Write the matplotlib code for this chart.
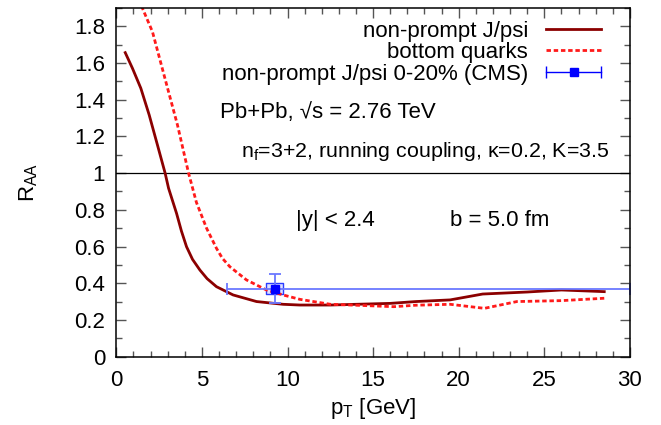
import matplotlib
matplotlib.use("Agg")
import matplotlib.pyplot as plt
from matplotlib.ticker import MultipleLocator
from matplotlib.lines import Line2D
from matplotlib.legend_handler import HandlerLine2D

plt.rcParams["font.family"] = ["Liberation Sans", "DejaVu Sans"]
plt.rcParams["mathtext.default"] = "regular"

# non-prompt J/psi (solid)
pt_jpsi = [0.52, 0.94, 1.43, 1.92, 2.4, 2.85, 3.05, 3.52, 3.8, 4.1, 4.45, 4.88, 5.3, 5.85,
           6.82, 8.19, 9.74, 10.72, 12.5, 14.0, 16.0, 17.5, 19.5, 21.4, 24.0, 26.0, 28.5]
raa_jpsi = [1.657, 1.572, 1.463, 1.317, 1.154, 1.0, 0.918, 0.78, 0.685, 0.599, 0.53, 0.472,
            0.425, 0.381, 0.336, 0.30, 0.285, 0.281, 0.281, 0.285, 0.29, 0.30, 0.309, 0.341,
            0.352, 0.363, 0.354]

# bottom quarks (dashed)
pt_b = [1.3, 1.53, 2.11, 2.89, 3.57, 4.22, 4.68, 5.27, 5.85, 6.2, 6.63, 7.6, 8.77,
        9.74, 10.72, 12.5, 14.0, 16.2, 17.5, 19.5, 21.5, 23.4, 26.0, 28.5]
raa_b = [1.96, 1.898, 1.771, 1.499, 1.263, 1.0, 0.84, 0.70, 0.59, 0.535, 0.49, 0.418, 0.363,
         0.336, 0.312, 0.285, 0.28, 0.272, 0.28, 0.285, 0.263, 0.30, 0.305, 0.318]

# CMS data point, 0-20%
cms_pt = [9.26]
cms_raa = [0.37]
cms_xlo = [6.47]
cms_xhi = [30.0]
cms_ylo = [0.29]
cms_yhi = [0.45]
cms_sys_pt = [8.77, 9.74]
cms_sys_raa = [0.34, 0.40]

fig, ax = plt.subplots(figsize=(6.61, 4.25), dpi=100)
fig.subplots_adjust(left=0.176, right=0.953, top=0.981, bottom=0.161)

ax.axhline(1.0, color="black", lw=0.9)

l1, = ax.plot(pt_jpsi, raa_jpsi, color="#8b0000", lw=2.0)
l2, = ax.plot(pt_b, raa_b, color="#ff1a1a", lw=2.0, ls=(0, (1.6, 1.0)))

ax.fill_between(cms_sys_pt, cms_sys_raa[0], cms_sys_raa[1], facecolor="#dde0ff",
                edgecolor="#2a3cff", lw=1.0)
xerr = [[cms_pt[0] - cms_xlo[0]], [cms_xhi[0] - cms_pt[0]]]
yerr = [[cms_raa[0] - cms_ylo[0]], [cms_yhi[0] - cms_raa[0]]]
ax.errorbar(cms_pt, cms_raa, xerr=xerr, yerr=yerr, fmt="s", color="#0000ff",
            ecolor="#6b78ff", ms=6, elinewidth=1.3, capsize=4, capthick=1.3)

ax.set_xlim(0, 30)
ax.set_ylim(0, 1.9)
ax.xaxis.set_major_locator(MultipleLocator(5))
ax.xaxis.set_minor_locator(MultipleLocator(1))
ax.yaxis.set_major_locator(MultipleLocator(0.2))
ax.yaxis.set_minor_locator(MultipleLocator(0.1))
ax.yaxis.set_major_formatter(plt.FuncFormatter(lambda v, p: f"{v:g}"))
ax.tick_params(which="both", direction="in", top=True, right=True, labelsize=16,
               color="#555555")
ax.tick_params(which="major", length=7, width=1)
ax.tick_params(which="minor", length=4, width=1)
ax.tick_params(axis="x", pad=10)
ax.tick_params(axis="y", pad=8)
for s in ax.spines.values():
    s.set_linewidth(1.1)

ax.set_xlabel("p$_T$ [GeV]", fontsize=16, labelpad=3)
ax.set_ylabel("R$_{AA}$", fontsize=16, labelpad=25)

ax.text(6.05, 1.33, "Pb+Pb, \u221as = 2.76 TeV", fontsize=16, va="center")
ax.text(7.3, 1.116, "n$_f$=3+2, running coupling, \u03ba=0.2, K=3.5", fontsize=15.4, va="center")
ax.text(10.5, 0.744, "|y| < 2.4", fontsize=16, va="center")
ax.text(19.5, 0.744, "b = 5.0 fm", fontsize=16, va="center")

# legend sample for the CMS point: horizontal bar with caps and a square
h_bar = Line2D([], [], color="#0000ff", lw=1.0, marker="|", ms=8, mew=1.0)
h_sq = Line2D([], [], color="#0000ff", ls="none", marker="s", ms=6)
ax.legend([l1, l2, (h_bar, h_sq)],
          ["non-prompt J/psi", "bottom quarks", "non-prompt J/psi 0-20% (CMS)"],
          handler_map={h_sq: HandlerLine2D(numpoints=1)}, numpoints=2,
          loc="upper right", bbox_to_anchor=(0.979, 0.996), frameon=False, markerfirst=False,
          fontsize=16, handlelength=3.1, handletextpad=0.5, labelspacing=0.03,
          borderaxespad=0.1)

fig.savefig("out.png", dpi=100)
